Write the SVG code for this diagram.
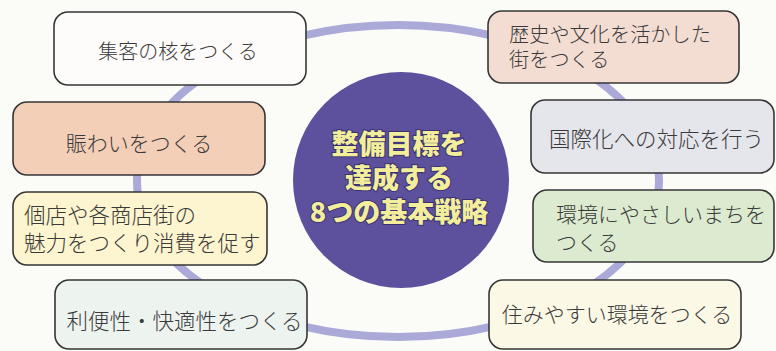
<svg xmlns="http://www.w3.org/2000/svg" width="776" height="351" viewBox="0 0 776 351">
<style>
.box{stroke:#363636;stroke-width:1.6}
.t{font-family:"Noto Sans CJK JP","Noto Sans",sans-serif;fill:#3a3a3a;font-weight:300}
.c{font-family:"Noto Sans CJK JP","Noto Sans",sans-serif;font-weight:900;font-size:27px;fill:#f2ee9c;stroke:#3b3170;stroke-width:2;paint-order:stroke;text-anchor:middle}
</style>
<rect width="776" height="351" fill="#fbfbf8"/>
<g id="connectors">
<ellipse cx="398" cy="181" rx="261" ry="156" fill="none" stroke="#aaa9d8" stroke-width="8"/>
</g>
<g id="center">
<circle cx="401" cy="180" r="108" fill="#5d519d"/>
<text class="c" x="399" y="154">整備目標を</text>
<text class="c" x="399" y="188">達成する</text>
<text class="c" x="399" y="222">8つの基本戦略</text>
</g>
<g id="n1">
<rect class="box" x="54" y="12" width="252" height="73" rx="14" fill="#fdfcfa"/>
<text class="t" x="178" y="58.5" font-size="20" text-anchor="middle">集客の核をつくる</text>
</g>
<g id="n2">
<rect class="box" x="13" y="102" width="252" height="73" rx="14" fill="#f4cfb8"/>
<text class="t" x="139" y="151" font-size="21" text-anchor="middle">賑わいをつくる</text>
</g>
<g id="n3">
<rect class="box" x="13" y="192" width="254" height="73" rx="14" fill="#fdf5cf"/>
<text class="t" x="24" y="222.5" font-size="21.5">個店や各商店街の</text>
<text class="t" x="24" y="250.5" font-size="21.5">魅力をつくり消費を促す</text>
</g>
<g id="n4">
<rect class="box" x="55" y="280" width="252" height="69" rx="14" fill="#edf3ee"/>
<text class="t" x="184.5" y="328.5" font-size="21.5" text-anchor="middle">利便性・快適性をつくる</text>
</g>
<g id="n5">
<rect class="box" x="488" y="11" width="251" height="72" rx="14" fill="#f3ddd3"/>
<text class="t" x="509" y="42" font-size="20.2">歴史や文化を活かした</text>
<text class="t" x="509" y="67" font-size="20.2">街をつくる</text>
</g>
<g id="n6">
<rect class="box" x="531" y="100" width="243" height="73" rx="14" fill="#e5e5ec"/>
<text class="t" x="656.5" y="146.5" font-size="21.5" text-anchor="middle">国際化への対応を行う</text>
</g>
<g id="n7">
<rect class="box" x="533" y="190" width="241" height="72" rx="14" fill="#dcebd0"/>
<text class="t" x="556" y="221.5" font-size="21">環境にやさしいまちを</text>
<text class="t" x="556" y="249.5" font-size="21">つくる</text>
</g>
<g id="n8">
<rect class="box" x="489" y="280" width="252" height="69" rx="14" fill="#fbf8e6"/>
<text class="t" x="617" y="321.5" font-size="21" text-anchor="middle">住みやすい環境をつくる</text>
</g>
</svg>
